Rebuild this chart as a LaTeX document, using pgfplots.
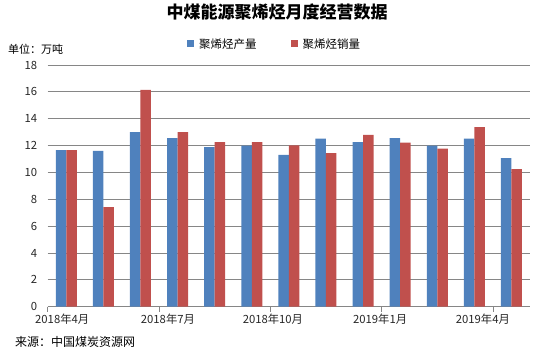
\documentclass[border=0pt]{standalone}
\usepackage{pgfplots}
\pgfplotsset{compat=1.18}
\usepackage{fontspec}
\setmainfont{Noto Sans CJK SC}
\definecolor{prodblue}{HTML}{4F81BD}
\definecolor{salesred}{HTML}{C0504D}
\definecolor{gridgray}{HTML}{868686}

\begin{document}
\begin{tikzpicture}
\path[use as bounding box] (0pt,0pt) rectangle (553pt,354pt);
\begin{axis}[
    at={(47.7pt,47.3pt)}, anchor=south west,
    scale only axis,
    width=482.3pt, height=241.7pt,
    ybar=0pt, bar width=10.5pt,
    xmin=-0.5, xmax=12.5,
    ymin=0, ymax=18,
    ytick={0,2,...,18},
    axis x line*=bottom, axis y line*=left,
    x axis line style={draw=gridgray, line width=0.8pt, -},
    y axis line style={draw=none},
    ytick style={draw=none},
    ymajorgrids,
    grid style={draw=gridgray, line width=0.8pt},
    xtick={-0.5,2.5,5.5,8.5,11.5},
    xticklabels={},
    x tick style={draw=gridgray, line width=0.8pt},
    tick align=outside, major tick length=5pt,
    extra x ticks={-0.11,2.74,5.57,8.46,11.23},
    extra x tick labels={2018年4月,2018年7月,2018年10月,2019年1月,2019年4月},
    extra x tick style={major tick length=0pt, grid=none,
        tick label style={yshift=-4pt}},
    /pgf/number format/assume math mode=true,
    tick label style={font=\fontsize{11.3}{13}\selectfont, text=black!85},
    y tick label style={xshift=-2pt},
    legend columns=2,
    legend cell align=left,
    legend style={at={(axis description cs:0.2826,1.087)}, anchor=west,
        draw=none, fill=none, font=\fontsize{11.5}{13}\selectfont,
        column sep=3pt, /tikz/every even column/.append style={column sep=32pt}},
]
\addplot[fill=prodblue, draw=none,
    legend image code/.code={\fill[prodblue] (0pt,-3.5pt) rectangle (7pt,3.5pt);}]
coordinates {
    (0,11.67) (1,11.6) (2,13.0) (3,12.56) (4,11.89) (5,11.99) (6,11.3)
    (7,12.51) (8,12.26) (9,12.56) (10,11.99) (11,12.51) (12,11.07)
};
\addplot[fill=salesred, draw=none,
    legend image code/.code={\fill[salesred] (0pt,-3.5pt) rectangle (7pt,3.5pt);}]
coordinates {
    (0,11.67) (1,7.42) (2,16.14) (3,13.0) (4,12.26) (5,12.26) (6,12.02)
    (7,11.44) (8,12.79) (9,12.21) (10,11.77) (11,13.38) (12,10.25)
};
\legend{聚烯烃产量,聚烯烃销量}
\end{axis}
\node[font=\fontsize{17}{19}\selectfont\bfseries] at (277pt,341.5pt) {中煤能源聚烯烃月度经营数据};
\node[anchor=west, inner sep=0pt, font=\fontsize{11}{13}\selectfont] at (8pt,305pt) {单位：万吨};
\node[anchor=west, inner sep=0pt, font=\fontsize{12}{14}\selectfont] at (15pt,12pt) {来源：中国煤炭资源网};
\end{tikzpicture}
\end{document}
